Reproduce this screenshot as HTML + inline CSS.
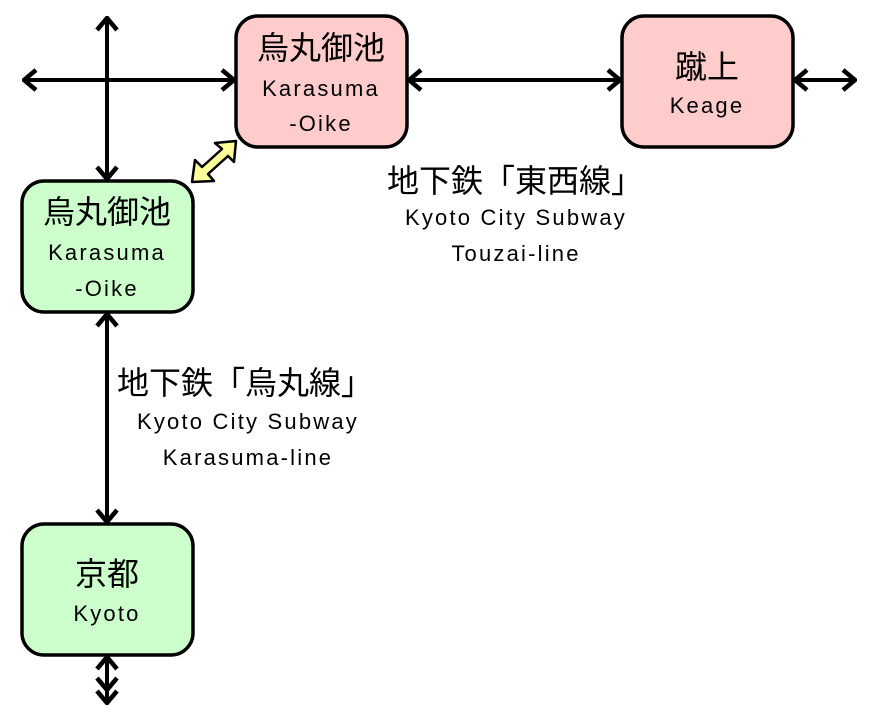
<!DOCTYPE html>
<html><head><meta charset="utf-8"><style>
html,body{margin:0;padding:0;background:#fff}
svg text{font-family:"Liberation Sans","Noto Sans CJK JP",sans-serif;fill:#000;text-anchor:middle}
.j{font-size:32px}
.e{font-size:22px;letter-spacing:2.2px}
</style></head><body>
<svg width="881" height="723" viewBox="0 0 881 723" xmlns="http://www.w3.org/2000/svg">
<defs>
<marker id="a" viewBox="0 0 16 24" refX="14" refY="12" markerWidth="16" markerHeight="24" markerUnits="userSpaceOnUse" orient="auto-start-reverse">
<path d="M2,2 L14,12 L2,22" fill="none" stroke="#000" stroke-width="4.5"/>
</marker>
</defs>
<g stroke="#000" stroke-width="4" fill="none">
<line x1="24" y1="80" x2="234" y2="80" marker-start="url(#a)" marker-end="url(#a)"/>
<line x1="107" y1="18" x2="107" y2="179" marker-start="url(#a)" marker-end="url(#a)"/>
<line x1="409" y1="80" x2="620" y2="80" marker-start="url(#a)" marker-end="url(#a)"/>
<line x1="795" y1="80" x2="855" y2="80" marker-start="url(#a)" marker-end="url(#a)"/>
<line x1="107" y1="314" x2="107" y2="522" marker-start="url(#a)" marker-end="url(#a)"/>
<line x1="107" y1="657" x2="107" y2="703" marker-start="url(#a)" marker-end="url(#a)"/>
<line x1="107" y1="680" x2="107" y2="690" marker-end="url(#a)"/>
</g>
<g stroke="#000" stroke-width="3.5">
<rect x="236" y="16" width="171" height="131" rx="22" fill="#ffcccc"/>
<rect x="622" y="16" width="171" height="131" rx="22" fill="#ffcccc"/>
<rect x="22" y="181" width="171" height="131" rx="22" fill="#ccffcc"/>
<rect x="22" y="524" width="171" height="131" rx="22" fill="#ccffcc"/>
</g>
<path d="M192,182 L195,160 L202,167 L222,149 L215,143 L236,141 L234,162 L228,156 L208,174 L214,181 Z" fill="#ffff99" stroke="#000" stroke-width="2.5" stroke-linejoin="round"/>
<text class="j" x="321" y="59">烏丸御池</text>
<text class="e" x="321" y="96">Karasuma</text>
<text class="e" x="321" y="131">-Oike</text>
<text class="j" x="707" y="78">蹴上</text>
<text class="e" x="707" y="113">Keage</text>
<text class="j" x="107" y="223">烏丸御池</text>
<text class="e" x="107" y="260">Karasuma</text>
<text class="e" x="107" y="296">-Oike</text>
<text class="j" x="107" y="585">京都</text>
<text class="e" x="107" y="621">Kyoto</text>
<text class="j" x="515" y="192">地下鉄「東西線」</text>
<text class="e" x="516" y="225">Kyoto City Subway</text>
<text class="e" x="516" y="261">Touzai-line</text>
<text class="j" x="245" y="394">地下鉄「烏丸線」</text>
<text class="e" x="248" y="429">Kyoto City Subway</text>
<text class="e" x="248" y="465">Karasuma-line</text>
</svg>
</body></html>
